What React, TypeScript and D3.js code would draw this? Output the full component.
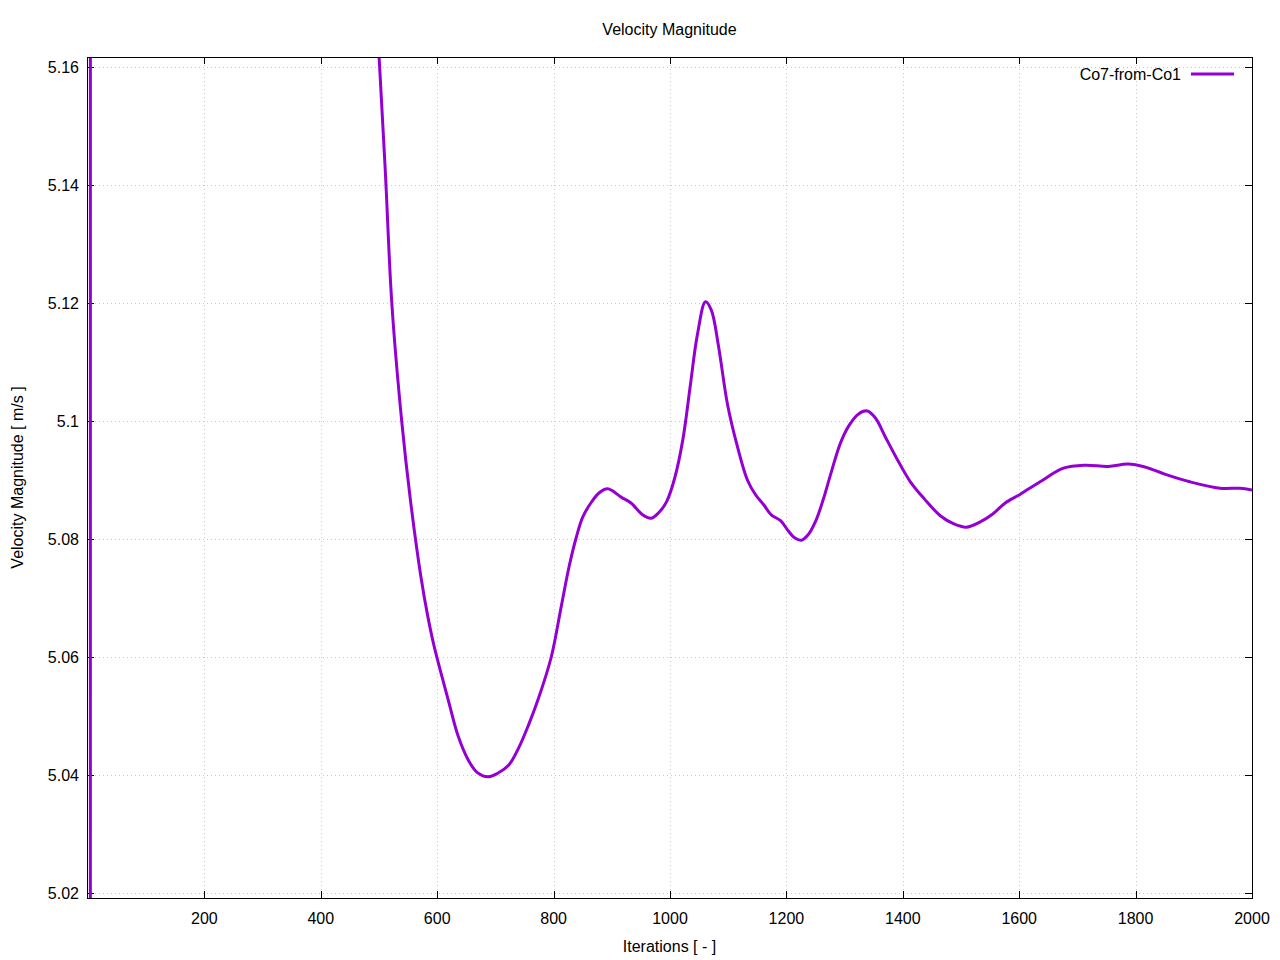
import React from "react";
import * as d3 from "d3";

const iterations: number[] = [1, 4, 4.3, 60, 200, 350, 450, 490, 500, 511, 522, 539, 554, 572, 584, 595, 619, 636, 652, 668, 687, 704, 723, 740, 757, 773, 796, 813, 827, 839, 850, 864, 878, 893, 916, 933, 953, 967, 980, 994, 1008, 1022, 1035, 1047, 1061, 1071, 1083, 1099, 1116, 1133, 1147, 1161, 1174, 1190, 1203, 1214, 1226, 1238, 1251, 1263, 1277, 1293, 1308, 1324, 1339, 1353, 1370, 1391, 1413, 1437, 1465, 1487, 1509, 1533, 1554, 1576, 1602, 1636, 1676, 1713, 1753, 1787, 1816, 1850, 1893, 1945, 1979, 2000];
const velocity: number[] = [4.6, 4.6, 6.5, 6.2, 5.8, 5.45, 5.25, 5.178, 5.162, 5.142, 5.12, 5.1, 5.0866, 5.0736, 5.0668, 5.0617, 5.0527, 5.0466, 5.0428, 5.0405, 5.0397, 5.0403, 5.0417, 5.0446, 5.0485, 5.0527, 5.06, 5.0685, 5.0755, 5.0803, 5.0837, 5.0861, 5.0878, 5.0885, 5.0871, 5.0861, 5.0841, 5.0835, 5.0844, 5.0863, 5.0903, 5.0968, 5.1061, 5.1146, 5.1202, 5.1188, 5.1129, 5.1027, 5.0956, 5.09, 5.0875, 5.0858, 5.0841, 5.0831, 5.0814, 5.0802, 5.0798, 5.0808, 5.0832, 5.0866, 5.0913, 5.0963, 5.0993, 5.1012, 5.1017, 5.1005, 5.0973, 5.0934, 5.0897, 5.0868, 5.0839, 5.0826, 5.082, 5.0829, 5.0842, 5.0861, 5.0876, 5.0897, 5.092, 5.0925, 5.0923, 5.0927, 5.0922, 5.091, 5.0897, 5.0886, 5.0886, 5.0883];

const xTicks: number[] = [200, 400, 600, 800, 1000, 1200, 1400, 1600, 1800, 2000];
const yTicks: number[] = [5.02, 5.04, 5.06, 5.08, 5.1, 5.12, 5.14, 5.16];
const seriesName = "Co7-from-Co1";

export default function App() {
  const W = 1280, H = 960;
  const left = 87, right = 1252, top = 57, bottom = 898;
  const x = d3.scaleLinear().domain([0, 2000]).range([88, right]);
  const y = d3.scaleLinear().domain([5.02, 5.16]).range([893, 67]);
  const pts: [number, number][] = iterations.map((it, i) => [it, velocity[i]]);
  const spike = pts.slice(0, 4);
  const main = pts.slice(3);
  const lineStraight = d3
    .line<[number, number]>()
    .x((d) => x(d[0]))
    .y((d) => y(d[1]));
  const lineSmooth = d3
    .line<[number, number]>()
    .x((d) => x(d[0]))
    .y((d) => y(d[1]))
    .curve(d3.curveCatmullRom.alpha(0.5));
  const color = "#9400D3";
  const font = "Liberation Sans, Arial, sans-serif";
  const tickLen = 7;
  const fmt = (v: number) => String(+v.toFixed(2));
  return (
    <svg width={W} height={H} style={{ position: "absolute", left: 0, top: 0, background: "#fff" }} fontFamily={font}>
      <defs>
        <clipPath id="plotclip">
          <rect x={left} y={top} width={right - left} height={bottom - top} />
        </clipPath>
      </defs>
      <rect x={0} y={0} width={W} height={H} fill="#fff" />
      {/* grid */}
      <g stroke="#c8c8c8" strokeWidth={1} strokeDasharray="1,3">
        {xTicks.map((t) => (
          <line key={"gx" + t} x1={Math.round(x(t)) + 0.5} x2={Math.round(x(t)) + 0.5} y1={top} y2={bottom} />
        ))}
        {yTicks.map((t) => (
          <line key={"gy" + t} x1={left} x2={right} y1={Math.round(y(t)) + 0.5} y2={Math.round(y(t)) + 0.5} />
        ))}
      </g>
      {/* ticks */}
      <g stroke="#000" strokeWidth={1}>
        {xTicks.map((t) => (
          <g key={"tx" + t}>
            <line x1={Math.round(x(t)) + 0.5} x2={Math.round(x(t)) + 0.5} y1={bottom} y2={bottom - tickLen} />
            <line x1={Math.round(x(t)) + 0.5} x2={Math.round(x(t)) + 0.5} y1={top} y2={top + tickLen} />
          </g>
        ))}
        {yTicks.map((t) => (
          <g key={"ty" + t}>
            <line x1={left} x2={left + tickLen} y1={Math.round(y(t)) + 0.5} y2={Math.round(y(t)) + 0.5} />
            <line x1={right} x2={right - tickLen} y1={Math.round(y(t)) + 0.5} y2={Math.round(y(t)) + 0.5} />
          </g>
        ))}
      </g>
      {/* data */}
      <g clipPath="url(#plotclip)">
        <path d={lineStraight(spike) || ""} fill="none" stroke={color} strokeWidth={3} strokeLinejoin="round" />
        <path d={lineSmooth(main) || ""} fill="none" stroke={color} strokeWidth={3} strokeLinejoin="round" />
      </g>
      {/* frame */}
      <rect x={left + 0.5} y={top + 0.5} width={right - left} height={bottom - top} fill="none" stroke="#000" strokeWidth={1} />
      {/* tick labels */}
      <g fontSize={16} fill="#000">
        {xTicks.map((t) => (
          <text key={"lx" + t} x={x(t)} y={924} textAnchor="middle">{t}</text>
        ))}
        {yTicks.map((t) => (
          <text key={"ly" + t} x={79} y={y(t) + 6} textAnchor="end">{fmt(t)}</text>
        ))}
      </g>
      <text x={669.5} y={35} textAnchor="middle" fontSize={16}>Velocity Magnitude</text>
      <text x={669.5} y={952} textAnchor="middle" fontSize={16}>Iterations [ - ]</text>
      <text transform={`translate(23,477.5) rotate(-90)`} textAnchor="middle" fontSize={16}>Velocity Magnitude [ m/s ]</text>
      {/* legend */}
      <text x={1181} y={80} textAnchor="end" fontSize={16}>{seriesName}</text>
      <line x1={1191} x2={1234} y1={74} y2={74} stroke={color} strokeWidth={3} />
    </svg>
  );
}
